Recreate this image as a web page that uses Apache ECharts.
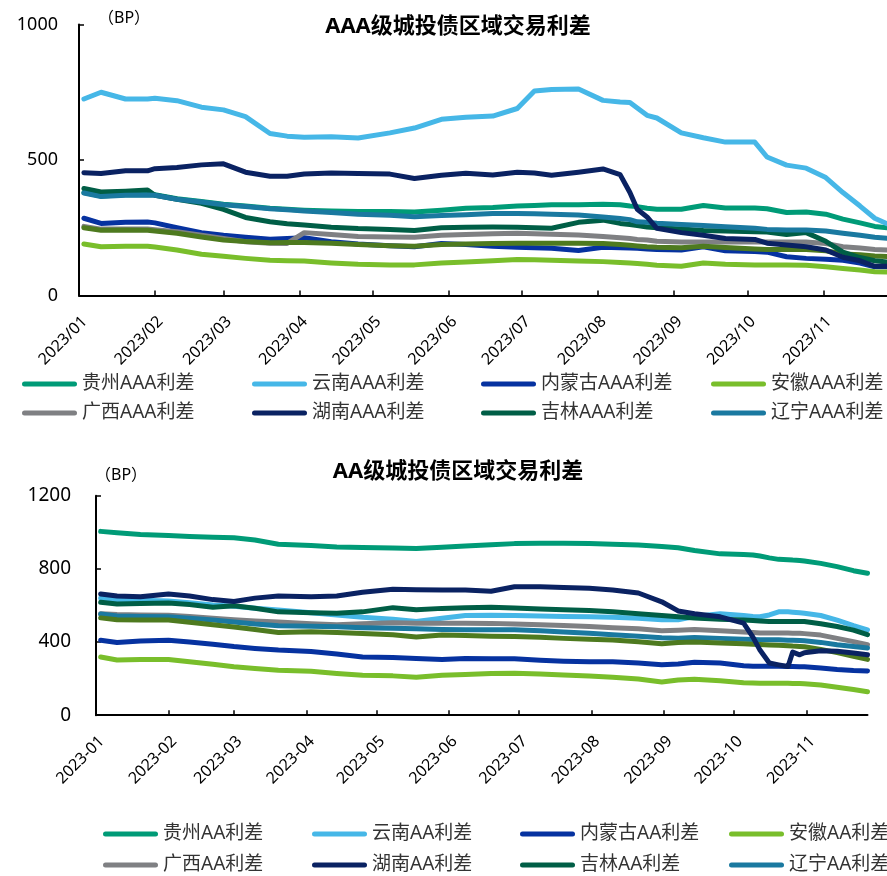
<!DOCTYPE html>
<html>
<head>
<meta charset="utf-8">
<script src="https://cdn.jsdelivr.net/npm/echarts@6/dist/echarts.min.js"></script>
<style>
html, body { margin: 0; padding: 0; background: #fff; }
#chart { width: 887px; height: 876px; }
</style>
</head>
<body>
<div id="chart"></div>
<script>
// Month boundaries that carry a tick and a label on both date axes
const monthStarts = ['2023-01-01', '2023-02-01', '2023-03-01', '2023-04-01', '2023-05-01', '2023-06-01',
  '2023-07-01', '2023-08-01', '2023-09-01', '2023-10-01', '2023-11-01'];
const axisFirstDay = '2023-01-01';
const axisLastDay = '2023-11-27';

// ---- AAA spreads (BP) ----
const aaaDates = ['2023-01-03', '2023-01-10', '2023-01-20', '2023-01-29', '2023-02-01', '2023-02-10', '2023-02-20',
  '2023-03-01', '2023-03-10', '2023-03-20', '2023-03-27', '2023-04-03', '2023-04-14', '2023-04-25', '2023-05-08',
  '2023-05-18', '2023-05-29', '2023-06-08', '2023-06-19', '2023-06-29', '2023-07-06', '2023-07-13', '2023-07-24',
  '2023-08-03', '2023-08-10', '2023-08-14', '2023-08-17', '2023-08-21', '2023-08-25', '2023-09-04', '2023-09-13',
  '2023-09-22', '2023-10-04', '2023-10-09', '2023-10-17', '2023-10-25', '2023-11-02', '2023-11-09', '2023-11-16',
  '2023-11-22', '2023-11-27'];
const guizhouAAA = [380, 367, 372, 373, 372, 357, 347, 337, 330, 322, 318, 315, 312, 310, 310, 308, 315, 322, 325, 330,
  332, 335, 335, 337, 335, 330, 328, 322, 318, 318, 332, 323, 323, 320, 306, 308, 300, 282, 268, 255, 250];
const yunnanAAA = [725, 750, 725, 725, 728, 719, 695, 685, 660, 598, 588, 584, 586, 581, 600, 618, 650, 658, 662, 690,
  755, 760, 762, 720, 714, 712, 692, 665, 655, 600, 582, 566, 566, 511, 481, 470, 435, 380, 330, 285, 265];
const neimengguAAA = [285, 266, 270, 271, 268, 250, 232, 222, 215, 208, 210, 213, 198, 190, 184, 180, 192, 188, 182, 178,
  176, 174, 166, 178, 176, 175, 174, 172, 170, 168, 180, 165, 162, 160, 143, 137, 134, 130, 120, 106, 106];
const anhuiAAA = [190, 180, 182, 182, 179, 168, 152, 145, 137, 130, 128, 127, 120, 115, 113, 113, 120, 124, 128, 133,
  132, 130, 127, 125, 122, 120, 118, 115, 112, 108, 120, 115, 113, 113, 113, 112, 106, 100, 94, 88, 87];
const guangxiAAA = [255, 245, 245, 245, 243, 235, 222, 210, 198, 193, 192, 232, 225, 218, 216, 215, 222, 225, 228, 230,
  228, 226, 223, 218, 213, 210, 207, 205, 200, 197, 197, 197, 197, 197, 197, 197, 192, 180, 175, 170, 168];
const hunanAAA = [453, 450, 460, 460, 468, 472, 482, 486, 455, 440, 440, 448, 452, 450, 448, 432, 444, 451, 445, 455,
  452, 444, 455, 467, 446, 380, 318, 290, 248, 232, 222, 210, 207, 193, 186, 180, 168, 141, 128, 108, 108];
const jilinAAA = [395, 382, 385, 389, 370, 355, 340, 318, 288, 272, 265, 260, 252, 247, 244, 240, 250, 252, 253, 252,
  250, 248, 270, 278, 266, 262, 258, 253, 250, 245, 240, 238, 235, 234, 225, 232, 200, 160, 140, 128, 124];
const liaoningAAA = [378, 365, 370, 371, 370, 355, 345, 335, 328, 320, 316, 312, 306, 300, 296, 291, 295, 298, 303, 303,
  302, 300, 297, 290, 284, 280, 272, 270, 267, 262, 258, 254, 248, 244, 242, 242, 238, 230, 222, 215, 211];
const otherAAA = [250, 241, 242, 241, 238, 230, 216, 205, 199, 195, 196, 196, 193, 188, 184, 182, 188, 190, 192, 193,
  193, 193, 193, 192, 188, 185, 183, 180, 178, 176, 182, 177, 172, 170, 170, 170, 165, 153, 150, 146, 144];

// ---- AA spreads (BP) ----
const aaDates = ['2023-01-03', '2023-01-10', '2023-01-20', '2023-02-01', '2023-02-10', '2023-02-20', '2023-03-01',
  '2023-03-10', '2023-03-20', '2023-04-03', '2023-04-14', '2023-04-25', '2023-05-08', '2023-05-18', '2023-05-29',
  '2023-06-08', '2023-06-19', '2023-06-29', '2023-07-10', '2023-07-20', '2023-07-31', '2023-08-10', '2023-08-21',
  '2023-08-31', '2023-09-07', '2023-09-14', '2023-09-25', '2023-10-05', '2023-10-09', '2023-10-12', '2023-10-16',
  '2023-10-20', '2023-10-24', '2023-10-26', '2023-10-29', '2023-10-31', '2023-11-07', '2023-11-14', '2023-11-21',
  '2023-11-27'];
const guizhouAA = [1005, 998, 988, 982, 977, 973, 970, 958, 935, 928, 920, 917, 914, 912, 918, 925, 932, 938, 940, 940,
  938, 935, 930, 922, 915, 900, 882, 878, 876, 870, 860, 852, 850, 848, 846, 843, 830, 812, 790, 776];
const yunnanAA = [640, 630, 628, 625, 615, 603, 595, 585, 575, 560, 548, 535, 525, 512, 530, 545, 547, 545, 542, 540,
  538, 535, 530, 522, 522, 540, 555, 545, 540, 538, 548, 565, 565, 563, 560, 557, 545, 520, 490, 467];
const neimengguAA = [410, 398, 405, 410, 400, 388, 375, 365, 356, 348, 335, 318, 315, 310, 305, 310, 309, 308, 300, 295,
  292, 292, 285, 276, 280, 290, 285, 270, 268, 268, 268, 267, 266, 266, 265, 265, 258, 250, 244, 242];
const anhuiAA = [318, 302, 304, 305, 292, 278, 265, 255, 246, 240, 228, 218, 215, 208, 218, 222, 228, 230, 225, 220,
  214, 208, 198, 182, 192, 196, 188, 178, 176, 175, 175, 174, 174, 173, 173, 172, 165, 153, 140, 128];
const guangxiAA = [555, 550, 548, 547, 540, 530, 522, 515, 510, 500, 494, 500, 505, 503, 503, 503, 502, 498, 494, 490,
  485, 478, 472, 462, 465, 468, 462, 455, 452, 450, 450, 450, 449, 448, 448, 446, 438, 420, 402, 385];
const hunanAA = [663, 652, 648, 662, 652, 632, 622, 640, 652, 648, 652, 672, 688, 686, 685, 684, 678, 702, 702, 698,
  694, 685, 668, 620, 570, 555, 538, 503, 427, 356, 285, 275, 266, 345, 330, 342, 352, 350, 340, 330];
const jilinAA = [618, 608, 610, 614, 605, 590, 598, 585, 565, 560, 558, 565, 588, 576, 584, 588, 590, 586, 580, 577,
  572, 565, 555, 545, 538, 532, 525, 520, 518, 515, 512, 512, 512, 512, 512, 512, 500, 485, 465, 440];
const liaoningAA = [553, 543, 540, 538, 530, 521, 510, 498, 489, 486, 483, 478, 475, 472, 468, 467, 467, 467, 462, 455,
  448, 440, 432, 424, 421, 425, 420, 415, 414, 413, 412, 412, 410, 410, 408, 407, 398, 385, 375, 367];
const otherAA = [532, 522, 521, 520, 508, 494, 482, 468, 452, 456, 452, 446, 440, 428, 438, 436, 432, 430, 426, 420,
  415, 411, 402, 390, 398, 400, 395, 390, 388, 386, 384, 383, 380, 378, 376, 374, 360, 342, 322, 305];

const palette = {
  guizhou: '#009B77', yunnan: '#46B7E7', neimenggu: '#0632A0', anhui: '#79BE2B',
  guangxi: '#7F8083', hunan: '#0A2262', jilin: '#005E46', liaoning: '#1A79A0', other: '#4E7A1F'
};

const FONT = "'Noto Sans', 'Noto Sans CJK SC', sans-serif";

// every calendar day of the axis range, one category each
function calendarDays(first, last) {
  const out = [];
  let t = Date.parse(first + 'T00:00:00Z');
  const end = Date.parse(last + 'T00:00:00Z');
  while (t <= end) {
    out.push(new Date(t).toISOString().slice(0, 10));
    t += 86400000;
  }
  return out;
}
const days = calendarDays(axisFirstDay, axisLastDay);
const isMonthStart = (idx, val) => monthStarts.indexOf(val) >= 0;

function lineSeries(name, dates, values, color, gridIdx) {
  return {
    name: name,
    type: 'line',
    xAxisIndex: gridIdx,
    yAxisIndex: gridIdx,
    data: dates.map((d, i) => [d, values[i]]),
    showSymbol: false,
    symbol: 'none',
    color: color,
    lineStyle: { width: 5, color: color, cap: 'round', join: 'round' },
    emphasis: { disabled: true },
    animation: false
  };
}

const series = [
  lineSeries('贵州AAA利差', aaaDates, guizhouAAA, palette.guizhou, 0),
  lineSeries('云南AAA利差', aaaDates, yunnanAAA, palette.yunnan, 0),
  lineSeries('内蒙古AAA利差', aaaDates, neimengguAAA, palette.neimenggu, 0),
  lineSeries('安徽AAA利差', aaaDates, anhuiAAA, palette.anhui, 0),
  lineSeries('广西AAA利差', aaaDates, guangxiAAA, palette.guangxi, 0),
  lineSeries('其他AAA利差', aaaDates, otherAAA, palette.other, 0),
  lineSeries('吉林AAA利差', aaaDates, jilinAAA, palette.jilin, 0),
  lineSeries('辽宁AAA利差', aaaDates, liaoningAAA, palette.liaoning, 0),
  lineSeries('湖南AAA利差', aaaDates, hunanAAA, palette.hunan, 0),

  lineSeries('贵州AA利差', aaDates, guizhouAA, palette.guizhou, 1),
  lineSeries('云南AA利差', aaDates, yunnanAA, palette.yunnan, 1),
  lineSeries('内蒙古AA利差', aaDates, neimengguAA, palette.neimenggu, 1),
  lineSeries('安徽AA利差', aaDates, anhuiAA, palette.anhui, 1),
  lineSeries('广西AA利差', aaDates, guangxiAA, palette.guangxi, 1),
  lineSeries('吉林AA利差', aaDates, jilinAA, palette.jilin, 1),
  lineSeries('辽宁AA利差', aaDates, liaoningAA, palette.liaoning, 1),
  lineSeries('其他AA利差', aaDates, otherAA, palette.other, 1),
  lineSeries('湖南AA利差', aaDates, hunanAA, palette.hunan, 1)
];

// legend: four columns of two rows under each panel
const capsule = 'path://M5,0 H105 A5,5 0 0 1 105,10 H5 A5,5 0 0 1 5,0 Z';
function legendColumn(names, left, top, gap) {
  return {
    orient: 'vertical', left: left, top: top, padding: 0, itemGap: gap,
    itemWidth: 55, itemHeight: 7, icon: capsule,
    selectedMode: false,
    textStyle: { fontSize: 19, lineHeight: 20, color: '#333', fontFamily: FONT },
    data: names
  };
}
const legends = [
  legendColumn(['贵州AAA利差', '广西AAA利差'], 22, 374, 9),
  legendColumn(['云南AAA利差', '湖南AAA利差'], 252, 374, 9),
  legendColumn(['内蒙古AAA利差', '吉林AAA利差'], 481, 374, 9),
  legendColumn(['安徽AAA利差', '辽宁AAA利差'], 711, 374, 9),
  legendColumn(['贵州AA利差', '广西AA利差'], 103, 824, 11),
  legendColumn(['云南AA利差', '湖南AA利差'], 312, 824, 11),
  legendColumn(['内蒙古AA利差', '吉林AA利差'], 520, 824, 11),
  legendColumn(['安徽AA利差', '辽宁AA利差'], 729, 824, 11)
];

function dateAxis(gridIdx, sep, margin) {
  return {
    type: 'category',
    gridIndex: gridIdx,
    data: days,
    boundaryGap: false,
    axisLine: { show: true, lineStyle: { color: '#000', width: 2 } },
    axisTick: { show: true, inside: true, length: 5, interval: isMonthStart, lineStyle: { color: '#000', width: 1.5 } },
    axisLabel: {
      interval: isMonthStart, rotate: 45, margin: margin, verticalAlign: 'top',
      showMinLabel: true, showMaxLabel: true, hideOverlap: false,
      fontSize: 16, color: '#000', fontFamily: FONT,
      formatter: v => v.slice(0, 4) + sep + v.slice(5, 7)
    },
    splitLine: { show: false }
  };
}
function valueAxis(gridIdx, max, step, fontSize, margin) {
  return {
    type: 'value',
    gridIndex: gridIdx,
    min: 0, max: max, interval: step,
    axisLine: { show: true, lineStyle: { color: '#000', width: 2 } },
    axisTick: { show: true, inside: true, length: 5, lineStyle: { color: '#000', width: 1.5 } },
    axisLabel: { fontSize: fontSize, color: '#000', margin: margin, fontFamily: FONT, formatter: v => String(v) },
    splitLine: { show: false }
  };
}

const chart = echarts.init(document.getElementById('chart'), null, { renderer: 'canvas' });
chart.setOption({
  backgroundColor: '#fff',
  animation: false,
  textStyle: { fontFamily: FONT },
  title: [
    { text: 'AAA级城投债区域交易利差', left: 458, top: 27, textAlign: 'center', textVerticalAlign: 'middle', padding: 0,
      textStyle: { fontSize: 22, fontWeight: 'bold', color: '#000', fontFamily: FONT } },
    { text: '（BP）', left: 98, top: 18, textVerticalAlign: 'middle', padding: 0,
      textStyle: { fontSize: 16, fontWeight: 'normal', color: '#000', fontFamily: FONT } },
    { text: 'AA级城投债区域交易利差', left: 458, top: 472, textAlign: 'center', textVerticalAlign: 'middle', padding: 0,
      textStyle: { fontSize: 22, fontWeight: 'bold', color: '#000', fontFamily: FONT } },
    { text: '（BP）', left: 95, top: 475, textVerticalAlign: 'middle', padding: 0,
      textStyle: { fontSize: 16, fontWeight: 'normal', color: '#000', fontFamily: FONT } }
  ],
  legend: legends,
  grid: [
    { left: 79, top: 24.5, width: 810, height: 271, containLabel: false },
    { left: 96, top: 495.7, width: 771.5, height: 219.5, containLabel: false }
  ],
  xAxis: [dateAxis(0, '/', 18), dateAxis(1, '-', 18)],
  yAxis: [valueAxis(0, 1000, 500, 18, 21), valueAxis(1, 1200, 400, 19, 25)],
  series: series
});
</script>
</body>
</html>
